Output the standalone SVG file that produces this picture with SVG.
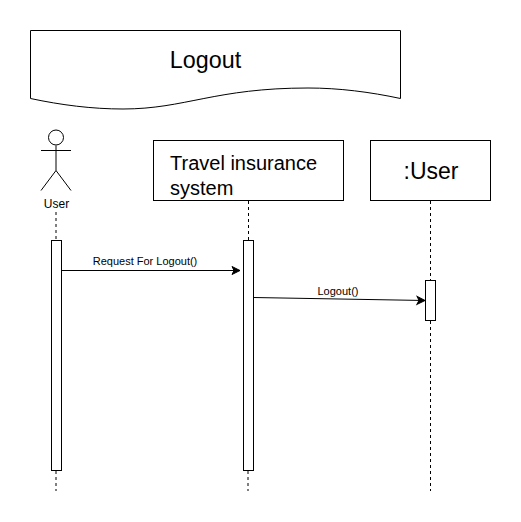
<svg xmlns="http://www.w3.org/2000/svg" width="521" height="522" viewBox="0 0 521 522">
<defs>
<marker id="arrow" markerUnits="userSpaceOnUse" markerWidth="10" markerHeight="10" refX="8" refY="4" orient="auto" overflow="visible"><path d="M0 0L8 4L0 8L2 4Z" fill="#000" stroke="#000" stroke-width="1"/></marker>
</defs>
<style>
text{font-family:"Liberation Sans",Arial,sans-serif;fill:#000}
.s{fill:#fff;stroke:#000;stroke-width:1}
.l{fill:none;stroke:#000;stroke-width:1}
.d{fill:none;stroke:#000;stroke-width:1;stroke-dasharray:3 3}
.m{font-size:11px;text-anchor:middle}
.t{font-size:20px}
</style>
<rect width="521" height="522" fill="#fff"/>
<g id="title"><path class="s" d="M30.500 30.500H400.500V98.500C370 92 339 88 308 88C215 88 185 109 123 109C92 109 61 105 30.500 98.500Z"/><text style="font-size:23.300px" x="205.500" y="68" text-anchor="middle">Logout</text></g>
<g id="lifelines">
<path class="d" d="M56 212V240M56 471V491"/>
<path class="d" d="M248.500 201V240"/>
<path class="d" d="M248 471V491"/>
<path class="d" d="M430.500 201V280M430.500 321V491"/>
</g>
<g id="actor-user"><circle class="s" cx="56" cy="137.500" r="7.500"/><path class="l" d="M56 145.500V170.500M41 150.500H71M41 190.500L56 170.500L71 190.500"/><text x="56.500" y="207.500" text-anchor="middle" style="font-size:12px">User</text></g>
<g id="system"><rect class="s" x="153.500" y="140.500" width="190" height="60"/><text class="t" x="170" y="170">Travel insurance</text><text class="t" x="170" y="194.500">system</text></g>
<g id="user-object"><rect class="s" x="370.500" y="140.500" width="120" height="60"/><text style="font-size:23px" x="431" y="178.500" text-anchor="middle">:User</text></g>
<g id="activation-user"><rect class="s" x="51.500" y="240.500" width="10" height="230"/></g>
<g id="activation-system"><rect class="s" x="243.500" y="240.500" width="10" height="230"/></g>
<g id="activation-object"><rect class="s" x="425.500" y="280.500" width="10" height="40"/></g>
<g id="connectors">
<path class="l" marker-end="url(#arrow)" d="M61.500 270.500H240"/>
<path class="l" marker-end="url(#arrow)" d="M253.500 297.500L425 300.500"/>
</g>
<g id="labels"><text class="m" x="145" y="265">Request For Logout()</text><text class="m" x="338" y="295">Logout()</text></g>
</svg>
